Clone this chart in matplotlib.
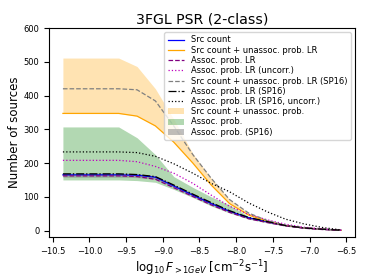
import matplotlib
matplotlib.use("Agg")
import matplotlib.pyplot as plt

# flux grid (log10 F > 1 GeV)
x = [-10.36, -10.11, -9.85, -9.60, -9.35, -9.10, -8.85, -8.59,
     -8.34, -8.09, -7.83, -7.58, -7.33, -7.08, -6.82, -6.57]

src_count        = [165, 165, 165, 165, 164, 158, 132, 105, 80, 57, 38, 26, 15, 8, 4, 1]
src_unassoc_lr   = [347, 347, 347, 347, 339, 310, 262, 200, 135, 80, 46, 28, 15, 8, 4, 1]
assoc_lr         = [162, 162, 162, 162, 160, 152, 127, 101, 76, 54, 35, 24, 14, 7, 3, 1]
assoc_lr_uncorr  = [208, 208, 208, 208, 204, 190, 170, 140, 105, 72, 48, 32, 19, 10, 5, 1]
src_unassoc_sp16 = [420, 420, 420, 420, 417, 384, 310, 225, 155, 92, 52, 30, 16, 8, 4, 1]
assoc_lr_sp16    = [168, 168, 168, 168, 166, 160, 135, 108, 83, 59, 39, 27, 15, 8, 4, 1]
assoc_sp16_unc   = [233, 233, 233, 233, 231, 220, 198, 170, 140, 115, 82, 56, 34, 20, 9, 2]

band_src_lo   = [347, 347, 347, 347, 339, 310, 262, 200, 135, 80, 46, 28, 15, 8, 4, 1]
band_src_hi   = [511, 511, 511, 511, 486, 420, 330, 228, 155, 92, 52, 30, 16, 8, 4, 1]
band_assoc_lo = [150, 150, 150, 150, 148, 143, 122, 98, 73, 52, 34, 23, 13, 7, 3, 1]
band_assoc_hi = [307, 307, 307, 307, 275, 225, 160, 128, 100, 76, 42, 27, 15, 8, 4, 1]
band_sp16_lo  = [158, 158, 158, 158, 157, 152, 128, 102, 77, 55, 36, 25, 14, 7, 3, 1]
band_sp16_hi  = [171, 171, 171, 171, 169, 162, 137, 110, 85, 61, 40, 27, 15, 8, 4, 1]

xticks = [-10.5, -10.0, -9.5, -9.0, -8.5, -8.0, -7.5, -7.0, -6.5]

fig = plt.figure(figsize=(3.74, 2.8), dpi=100)
ax = fig.add_axes([49/374, 1-237/280, (355-49)/374, (237-28)/280])

lw = 0.9
l1, = ax.plot(x, src_count, color='blue', lw=lw, label='Src count')
l2, = ax.plot(x, src_unassoc_lr, color='orange', lw=lw, label='Src count + unassoc. prob. LR')
l3, = ax.plot(x, assoc_lr, color='purple', ls='--', lw=lw, label='Assoc. prob. LR')
l4, = ax.plot(x, assoc_lr_uncorr, color='m', ls=':', lw=lw, label='Assoc. prob. LR (uncorr.)')
l5, = ax.plot(x, src_unassoc_sp16, color='gray', ls='--', lw=lw, label='Src count + unassoc. prob. LR (SP16)')
l6, = ax.plot(x, assoc_lr_sp16, color='k', ls='-.', lw=lw, label='Assoc. prob. LR (SP16)')
l7, = ax.plot(x, assoc_sp16_unc, color='k', ls=':', lw=lw, label='Assoc. prob. LR (SP16, uncorr.)')
f1 = ax.fill_between(x, band_src_lo, band_src_hi, color='orange', alpha=0.3, lw=0,
                     label='Src count + unassoc. prob.')
f2 = ax.fill_between(x, band_assoc_lo, band_assoc_hi, color='green', alpha=0.3, lw=0,
                     label='Assoc. prob.')
f3 = ax.fill_between(x, band_sp16_lo, band_sp16_hi, color='gray', alpha=0.5, lw=0,
                     label='Assoc. prob. (SP16)')

ax.set_ylim(-19, 600)
ax.set_xticks(xticks)
ax.tick_params(labelsize=6)
ax.set_title('3FGL PSR (2-class)', fontsize=10.2, pad=3)
ax.set_ylabel('Number of sources', fontsize=8.5, labelpad=2)
ax.set_xlabel(r'$\log_{10}F_{>1GeV}$ [cm$^{-2}$s$^{-1}$]', fontsize=8.5, labelpad=2)

ax.legend(handles=[l1, l2, l3, l4, l5, l6, l7, f1, f2, f3], loc='upper right',
          fontsize=6, labelspacing=0.15)

fig.savefig('out.png', dpi=100)
